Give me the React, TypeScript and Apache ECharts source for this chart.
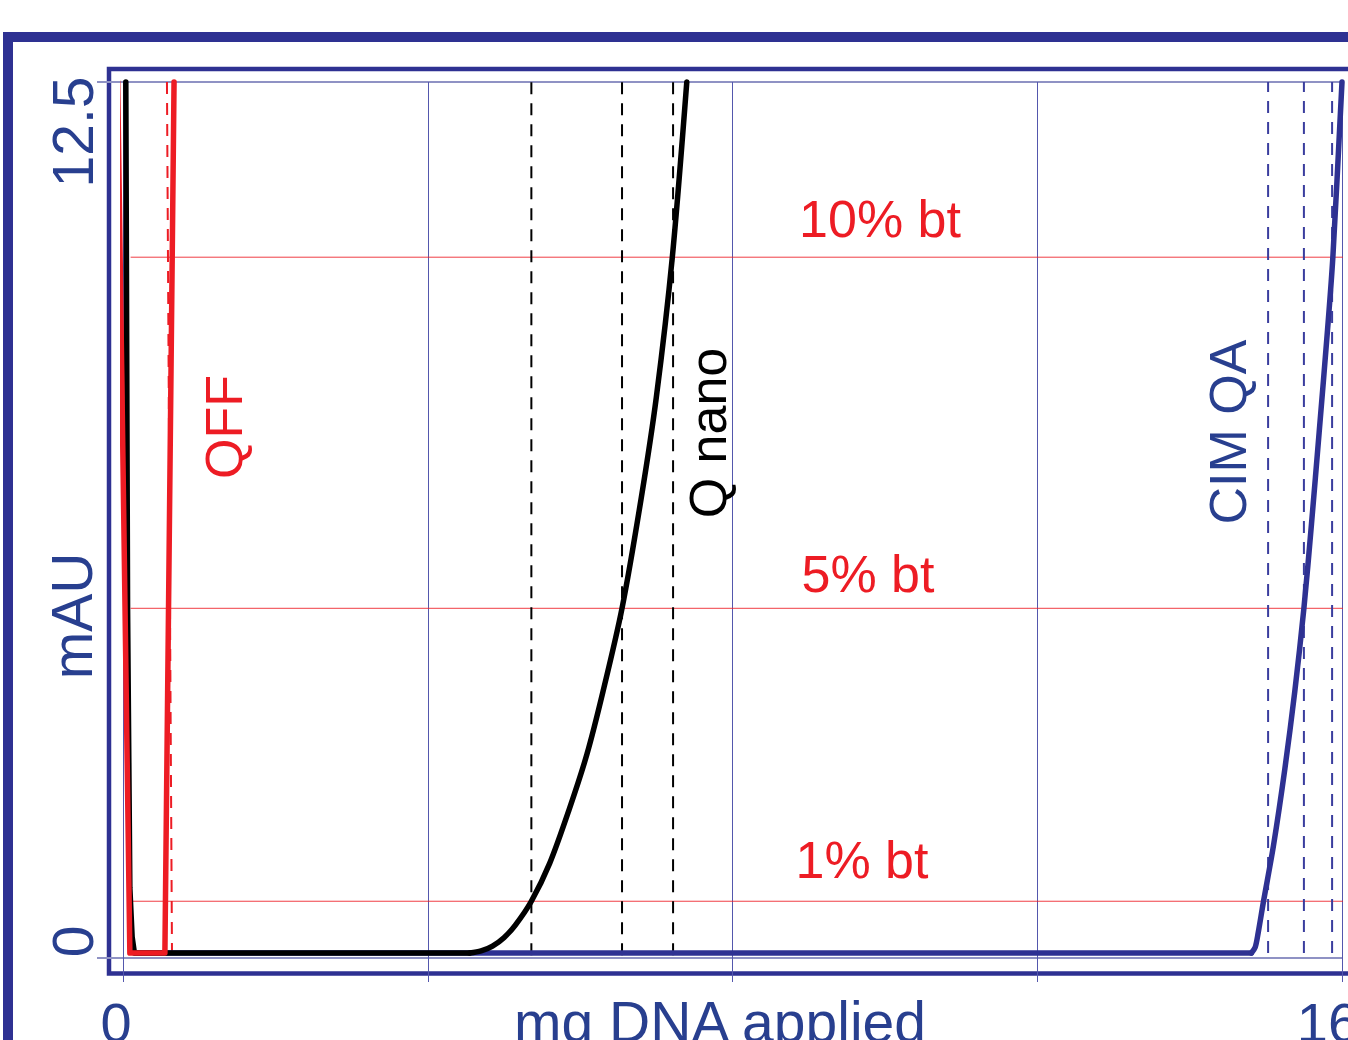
import React, { useEffect, useRef } from "react";
import * as echarts from "echarts";

const FONT = "'Liberation Sans', Arial, Helvetica, sans-serif";
const NAVY = "#2e3192";
const TEXT_BLUE = "#283f8f";
const RED = "#ed1c24";
const GRID_V = "#5457ad";
const GRID_H = "#8f92c4";

// axis ticks
const xTickValues = [0, 16];
const xTickLabels = ["0", "16"];
const yTickValues = [0, 12.5];
const yTickLabels = ["0", "12.5"];

// QFF (red) breakthrough curve
const qffX = [-0.07, 0.09, 0.55, 0.67];
const qffY = [12.5, 0.07, 0.07, 12.5];

// Q nano (black)
const qnanoX = [0.037, 0.06, 0.09, 0.12, 0.15, 4.55, 4.7, 4.85, 5.0, 5.15, 5.36, 5.6, 5.85, 6.09, 6.3, 6.55, 6.8, 7.0, 7.21, 7.4];
const qnanoY = [12.5, 5.0, 1.0, 0.3, 0.07, 0.07, 0.1, 0.17, 0.29, 0.47, 0.81, 1.35, 2.1, 2.91, 3.8, 4.99, 6.55, 8.0, 10.0, 12.5];

// CIM QA (blue)
const cimX = [0.15, 14.81, 14.86, 14.9, 14.97, 15.1, 15.25, 15.38, 15.5, 15.6, 15.7, 15.81, 15.88, 16.0];
const cimY = [0.07, 0.07, 0.15, 0.36, 0.81, 1.6, 2.7, 3.8, 4.99, 6.2, 7.5, 8.96, 10.0, 12.5];

// breakthrough levels (mAU)
const btLevels = [0.81, 4.99, 10.0];
const btLabels = ["1% bt", "5% bt", "10% bt"];

// dashed markers (mg DNA)
const qffMarkTop = 0.577;
const qffMarkBottom = 0.643;
const qnanoMarks = [5.36, 6.55, 7.22];
const cimMarks = [15.03, 15.5, 15.87];

const zip = (xs: number[], ys: number[]) => xs.map((x, i) => [x, ys[i]]);

export default function App() {
  const ref = useRef<HTMLDivElement>(null);
  useEffect(() => {
    document.body.style.margin = "0";
    const chart = echarts.init(ref.current!, null, { renderer: "svg" });

    const dashed = (pts: number[][], color: string) => ({
      type: "line",
      data: pts,
      symbol: "none",
      silent: true,
      clip: false,
      z: 3,
      lineStyle: { color, width: 2, type: [12, 9] },
    });

    const curve = (pts: number[][], color: string, z: number, smooth: number) => ({
      type: "line",
      data: pts,
      symbol: "none",
      clip: false,
      z,
      smooth,
      lineStyle: { color, width: 5.5, join: "round", cap: "round" },
    });

    const qnano = zip(qnanoX, qnanoY);
    const cim = zip(cimX, cimY);

    const series: any[] = [];
    btLevels.forEach((v) => {
      series.push({
        type: "line",
        data: [
          [0.1, v],
          [16.3, v],
        ],
        symbol: "none",
        silent: true,
        clip: false,
        z: 2,
        lineStyle: { color: RED, width: 1, opacity: 0.85 },
      });
    });
    series.push(dashed([[qffMarkTop, 12.5], [qffMarkBottom, 0.07]], RED));
    qnanoMarks.forEach((m) => series.push(dashed([[m, 0.04], [m, 12.5]], "#000000")));
    cimMarks.forEach((m) => series.push(dashed([[m, 0.07], [m, 12.5]], "#3a3d9e")));
    // CIM QA: flat part + smooth rise
    series.push(curve(cim.slice(0, 2), NAVY, 4, 0));
    series.push(curve(cim.slice(1), NAVY, 4, 0.3));
    // Q nano: steep start + flat + smooth rise
    series.push(curve(qnano.slice(0, 6), "#000000", 5, 0));
    series.push(curve(qnano.slice(5), "#000000", 5, 0.3));
    // QFF
    series.push(curve(zip(qffX, qffY), RED, 6, 0));

    const txt = (text: string, x: number, y: number, size: number, fill: string, rot = 0) => ({
      type: "text",
      x,
      y,
      rotation: rot,
      z: 10,
      style: {
        text,
        fill,
        font: `${size}px ${FONT}`,
        align: "center",
        verticalAlign: "middle",
      },
    });

    chart.setOption({
      animation: false,
      grid: {
        left: 123,
        right: 6,
        top: 82,
        bottom: 82,
        containLabel: false,
        outerBoundsMode: "none",
      },
      xAxis: {
        type: "value",
        min: 0,
        max: 16,
        interval: 4,
        axisLine: { show: false },
        axisTick: { show: true, length: 24, lineStyle: { color: GRID_V, width: 1 } },
        splitLine: { show: true, lineStyle: { color: GRID_V, width: 1 } },
        axisLabel: {
          show: true,
          showMinLabel: true,
          showMaxLabel: true,
          margin: 64,
          verticalAlign: "middle",
          align: "center",
          fontSize: 56,
          fontFamily: FONT,
          color: TEXT_BLUE,
          formatter: (v: number) => {
            const i = xTickValues.indexOf(v);
            return i < 0 ? "" : `{t${i}|${xTickLabels[i]}}`;
          },
          rich: {
            t0: { fontSize: 56, fontFamily: FONT, color: TEXT_BLUE, padding: [0, 14, 0, 0] },
            t1: { fontSize: 56, fontFamily: FONT, color: TEXT_BLUE, padding: [0, 28, 0, 0] },
          },
        },
      },
      yAxis: {
        type: "value",
        min: 0,
        max: 12.5,
        interval: 12.5,
        axisLine: { show: false },
        axisTick: { show: true, length: 26, lineStyle: { color: GRID_H, width: 2 } },
        splitLine: { show: true, lineStyle: { color: GRID_H, width: 2 } },
        axisLabel: {
          show: true,
          showMinLabel: true,
          showMaxLabel: true,
          rotate: 90,
          margin: 50,
          align: "center",
          verticalAlign: "middle",
          fontSize: 57,
          fontFamily: FONT,
          color: TEXT_BLUE,
          formatter: (v: number) => {
            const i = yTickValues.indexOf(v);
            return i < 0 ? "" : `{y${i}|${yTickLabels[i]}}`;
          },
          rich: {
            y0: { fontSize: 57, fontFamily: FONT, color: TEXT_BLUE, padding: [0, 0, 0, 33] },
            y1: { fontSize: 57, fontFamily: FONT, color: TEXT_BLUE, padding: [0, 100, 0, 0] },
          },
        },
      },
      series,
      graphic: [
        {
          type: "rect",
          z: 0,
          silent: true,
          shape: { x: 8, y: 37, width: 1600, height: 1200 },
          style: { fill: "none", stroke: NAVY, lineWidth: 10 },
        },
        {
          type: "rect",
          z: 0,
          silent: true,
          shape: { x: 109, y: 69, width: 1600, height: 904.5 },
          style: { fill: "none", stroke: NAVY, lineWidth: 4.5 },
        },
        txt("mAU", 72, 616, 57, TEXT_BLUE, Math.PI / 2),
        txt("mg DNA applied", 720, 1022, 57, TEXT_BLUE),
        txt(btLabels[2], 880, 219, 52, RED),
        txt(btLabels[1], 868, 574, 52, RED),
        txt(btLabels[0], 862, 860, 52, RED),
        txt("QFF", 224, 427, 52, RED, Math.PI / 2),
        txt("Q nano", 708, 433, 52, "#000000", Math.PI / 2),
        txt("CIM QA", 1228, 432, 52, TEXT_BLUE, Math.PI / 2),
      ],
    });
    return () => chart.dispose();
  }, []);
  return (
    <div
      ref={ref}
      style={{ position: "fixed", left: 0, top: 0, width: 1348, height: 1040, background: "#ffffff" }}
    />
  );
}
